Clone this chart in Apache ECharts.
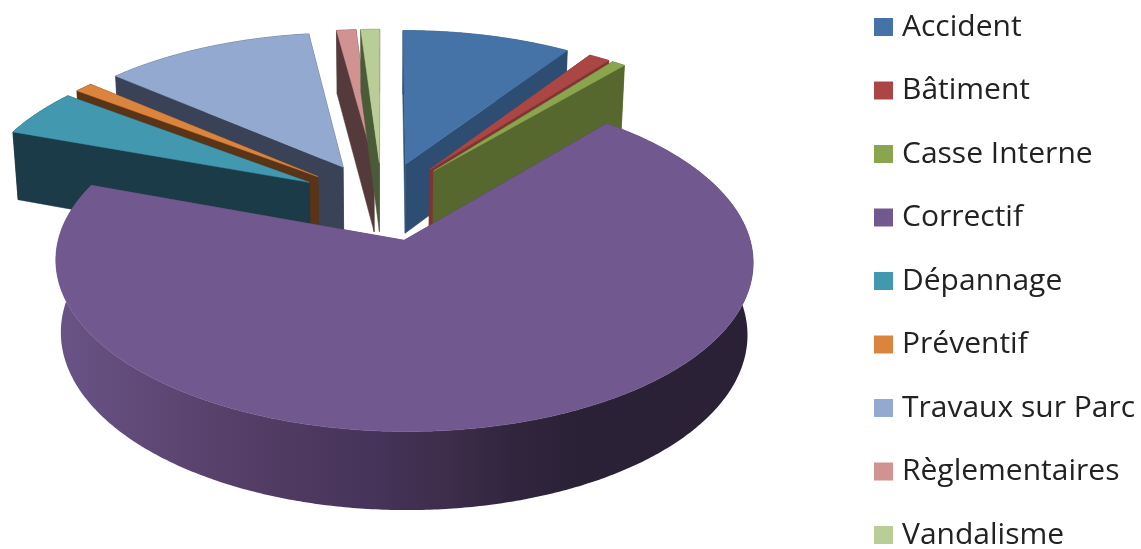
<!DOCTYPE html>
<html><head><meta charset="utf-8">
<style>html,body{margin:0;padding:0;background:#fff}#c{width:1141px;height:549px}</style>
<script src="https://cdn.jsdelivr.net/npm/echarts@6/dist/echarts.min.js"></script>
</head><body><div id="c"></div>
<script>
const categories = ['Accident','Bâtiment','Casse Interne','Correctif','Dépannage','Préventif','Travaux sur Parc','Règlementaires','Vandalisme'];
const values = [9.28,1.17,0.75,69.36,4.78,1.0,11.58,1.06,1.03];
const topColors = ['#4572a7','#aa4643','#89a54e','#71588f','#4198af','#db843d','#93a9cf','#d19392','#b9cd96'];
const wallColors = ['#2e4d73','#7f3431','#56682d','#4a3a60','#1a3b47','#5a3416','#3a4257','#553a3c','#4b5a38'];
const paintOrder = [7,8,0,1,2,6,5,4,3];

// projection of the tilted pie
const P = {x0:382,y0:201,a:336,b:158,c:71.5,k:0.12,m:0.015,explode:0.25};
function project(U,V,z){const w=1-P.k*V+P.m*z;return [P.x0+P.a*U/w,P.y0+(P.b*V+P.c*z)/w];}

const total = values.reduce((s,v)=>s+v,0);
let acc = 0;
const arcs = values.map(v=>{const s=acc;acc+=v/total*Math.PI*2;return [s,acc];});

function sliceShapes(i){
  const [s,e]=arcs[i];const mid=(s+e)/2;
  const ou=P.explode*Math.sin(mid), ov=-P.explode*Math.cos(mid);
  const pt=(r,t,z)=>project(ou+r*Math.sin(t),ov-r*Math.cos(t),z);
  const rim=[];const n=Math.max(4,Math.ceil((e-s)/0.01));
  for(let j=0;j<=n;j++)rim.push(s+(e-s)*j/n);
  const top=[pt(0,0,0),...rim.map(t=>pt(1,t,0))];
  const outer=[...rim.map(t=>pt(1,t,0)),...rim.slice().reverse().map(t=>pt(1,t,1))];
  const wall=t=>[pt(0,0,0),pt(1,t,0),pt(1,t,1),pt(0,0,1)];
  return {top,outer,wallS:wall(s),wallE:wall(e),right:Math.sin(mid)>0};
}
const poly=(points,fill)=>({type:'polygon',shape:{points},style:{fill,stroke:typeof fill==='string'?fill:null,lineWidth:0.5}});

function renderSlice(i){
  return function(){
    const g=sliceShapes(i);
    const outerFill=i===3?new echarts.graphic.LinearGradient(0,0,1,0,[
      {offset:0,color:'#6a5487'},{offset:0.25,color:'#563f68'},{offset:0.45,color:'#46345a'},{offset:0.55,color:'#3f2d4c'},{offset:0.65,color:'#32263f'},{offset:0.75,color:'#2a2136'},{offset:1,color:'#2a2136'}]):wallColors[i];
    const children=[poly(g.outer,outerFill)];
    if(g.right)children.push(poly(g.wallS,wallColors[i]),poly(g.wallE,wallColors[i]));
    else children.push(poly(g.wallE,wallColors[i]),poly(g.wallS,wallColors[i]));
    children.push(poly(g.top,topColors[i]));
    return {type:'group',children};
  };
}

const chart=echarts.init(document.getElementById('c'),null,{renderer:'canvas'});
chart.setOption({
  animation:false,
  backgroundColor:'#fff',
  color:topColors,
  legend:{orient:'vertical',left:874,top:12,height:620,width:267,padding:0,itemWidth:19,itemHeight:18,itemGap:33.5,icon:'rect',selectedMode:false,
    data:categories,textStyle:{fontFamily:'"Open Sans"',fontSize:30,color:'#222',padding:[0,0,0,4]}},
  series:categories.map((name,i)=>({
    type:'custom',name,coordinateSystem:'none',silent:true,
    z:2+paintOrder.indexOf(i),
    itemStyle:{color:topColors[i]},
    data:[[values[i]]],
    renderItem:renderSlice(i)
  }))
});
</script></body></html>
